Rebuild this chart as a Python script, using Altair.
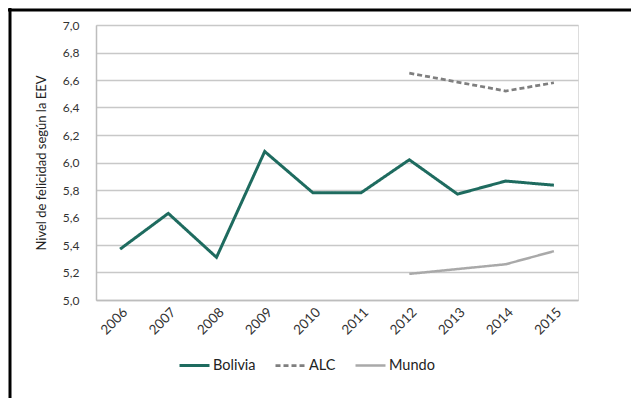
import altair as alt
import pandas as pd

years = ["2006", "2007", "2008", "2009", "2010", "2011", "2012", "2013", "2014", "2015"]
bolivia = [5.37, 5.63, 5.31, 6.08, 5.78, 5.78, 6.02, 5.77, 5.865, 5.835]
alc_years = ["2012", "2013", "2014", "2015"]
alc = [6.65, 6.585, 6.52, 6.58]
mundo_years = ["2012", "2013", "2014", "2015"]
mundo = [5.19, 5.225, 5.26, 5.355]

series_names = ["Bolivia", "ALC", "Mundo"]
series_colors = ["#1e6b5f", "#7f7f7f", "#a9a9a9"]

rows = []
for y, v in zip(years, bolivia):
    rows.append({"anio": y, "valor": v, "serie": "Bolivia"})
for y, v in zip(alc_years, alc):
    rows.append({"anio": y, "valor": v, "serie": "ALC"})
for y, v in zip(mundo_years, mundo):
    rows.append({"anio": y, "valor": v, "serie": "Mundo"})
df = pd.DataFrame(rows)

FONT = "Lato"

lines = alt.Chart(df).mark_line(strokeCap="butt", strokeJoin="miter").encode(
    x=alt.X("anio:N", sort=years, scale=alt.Scale(domain=years, paddingOuter=0.5, paddingInner=0),
            axis=alt.Axis(title=None, labelAngle=-45, labelAlign="right", labelBaseline="top",
                          labelPadding=5, ticks=False, grid=False, domainColor="#bdbdbd",
                          domainWidth=1.5, labelFontSize=13.5, labelColor="#333333", labelFont=FONT)),
    y=alt.Y("valor:Q", scale=alt.Scale(domain=[5.0, 7.0], nice=False, zero=False),
            axis=alt.Axis(title="Nivel de felicidad según la EEV", values=[5.0, 5.2, 5.4, 5.6, 5.8, 6.0, 6.2, 6.4, 6.6, 6.8, 7.0],
                          labelExpr="replace(format(datum.value, '.1f'), '.', ',')",
                          ticks=False, labelPadding=17, gridColor="#c8c8c8", gridWidth=1.5,
                          domainColor="#bdbdbd", domainWidth=1.5, titlePadding=14,
                          titleFontSize=13, titleFontWeight="normal", titleColor="#222222",
                          labelFontSize=12, labelColor="#333333", labelFont=FONT, titleFont=FONT)),
    color=alt.Color("serie:N", scale=alt.Scale(domain=series_names, range=series_colors),
                    legend=alt.Legend(title=None, orient="none", direction="horizontal",
                                      legendX=82, legendY=324, symbolType="stroke",
                                      symbolSize=900, labelFontSize=14.5, labelColor="#222222",
                                      labelFont=FONT, columnPadding=14, labelOffset=2)),
    strokeDash=alt.StrokeDash("serie:N", scale=alt.Scale(domain=series_names, range=[[1, 0], [5, 3], [1, 0]]),
                              legend=None),
    strokeWidth=alt.StrokeWidth("serie:N", scale=alt.Scale(domain=series_names, range=[3, 2.5, 2]),
                                legend=None),
    detail="serie:N",
)

border_left = alt.Chart(pd.DataFrame({"a": [0]})).mark_rule(color="black", strokeWidth=3).encode(
    x=alt.value(-86), y=alt.value(-17), y2=alt.value(420))
border_top = alt.Chart(pd.DataFrame({"a": [0]})).mark_rule(color="black", strokeWidth=3).encode(
    x=alt.value(-88), x2=alt.value(560), y=alt.value(-15))

chart = alt.layer(lines, border_left, border_top).properties(
    width=482, height=275,
    autosize=alt.AutoSizeParams(type="none"),
    padding={"left": 88, "top": 17, "right": 53, "bottom": 98},
).configure_view(stroke=None).configure(font=FONT, background="white")

chart.save("out.html", embed_options={"renderer": "svg", "actions": False})
